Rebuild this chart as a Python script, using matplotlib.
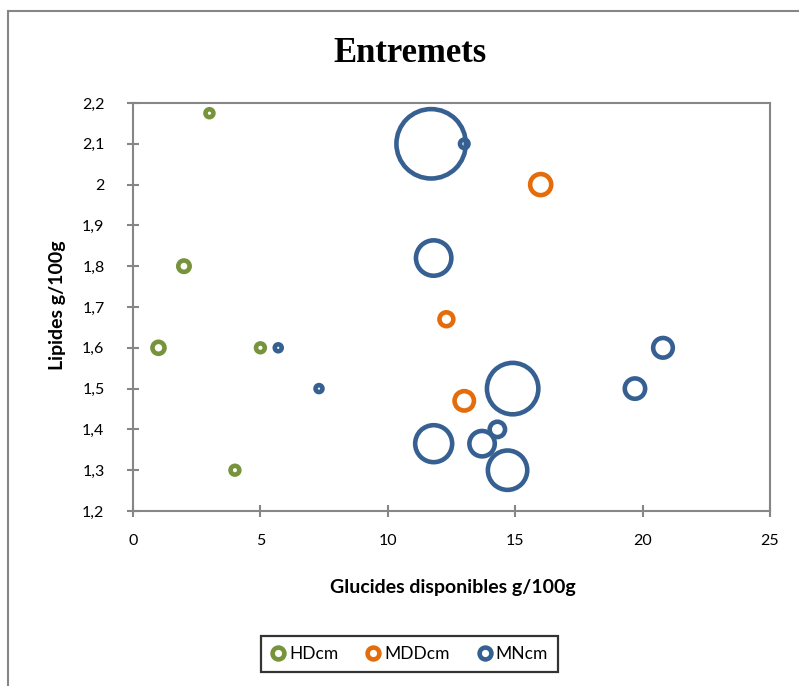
import matplotlib.pyplot as plt
from matplotlib.patches import Rectangle
from matplotlib.lines import Line2D
import numpy as np

# glucides (x), lipides (y) and bubble size for each group
hd_x = [3, 2, 1, 5, 4]
hd_y = [2.175, 1.8, 1.6, 1.6, 1.3]
hd_n = [1.3, 2.7, 3.0, 1.6, 1.6]

mdd_x = [16, 12.3, 13]
mdd_y = [2.0, 1.67, 1.47]
mdd_n = [9.2, 4.0, 7.8]

mn_x = [11.7, 13, 11.8, 5.7, 7.3, 20.8, 19.7, 14.9, 14.3, 13.7, 11.8, 14.7]
mn_y = [2.1, 2.1, 1.82, 1.6, 1.5, 1.6, 1.5, 1.5, 1.4, 1.365, 1.365, 1.3]
mn_n = [100, 1.5, 26, 1.0, 1.0, 8.0, 8.6, 54.9, 4.9, 13.4, 28.4, 32.2]

series = ['HDcm', 'MDDcm', 'MNcm']
colors = ['#77933C', '#E46C0A', '#376092']
x_ticks = [0, 5, 10, 15, 20, 25]
y_ticks = [1.2, 1.3, 1.4, 1.5, 1.6, 1.7, 1.8, 1.9, 2.0, 2.1, 2.2]

dpi = 100
rmax_px = 34.7  # centre-line radius of the largest bubble
nmax = max(hd_n + mdd_n + mn_n)

def bubble_area(n):
    d_pt = 2 * rmax_px * np.sqrt(np.array(n) / nmax) * 72 / dpi
    return d_pt ** 2

plt.rcParams['font.family'] = ['Lato', 'DejaVu Sans']
grey = '#868686'

fig = plt.figure(figsize=(7.99, 6.86), dpi=dpi)
ax = fig.add_axes([133/799, 1-511/686, 637/799, 408/686])

for xs, ys, ns, c in zip([hd_x, mdd_x, mn_x], [hd_y, mdd_y, mn_y],
                         [hd_n, mdd_n, mn_n], colors):
    ax.scatter(xs, ys, s=bubble_area(ns), facecolors='none',
               edgecolors=c, linewidths=3.3, zorder=3, clip_on=False)

ax.set_xlim(0, 25)
ax.set_ylim(1.2, 2.2)
ax.set_xticks(x_ticks)
ax.set_yticks(y_ticks)
ax.set_xticklabels([str(v) for v in x_ticks])
ax.set_yticklabels([('%g' % v).replace('.', ',') for v in y_ticks])
for sp in ax.spines.values():
    sp.set_color(grey)
    sp.set_linewidth(1.5)
ax.tick_params(axis='both', direction='inout', length=9, width=1.5,
               color=grey, labelsize=11.5, labelcolor='black')
ax.tick_params(axis='y', pad=16)
ax.tick_params(axis='x', pad=12)

fig.text(0.513, 1-53/686, 'Entremets', family='Liberation Serif',
         fontweight='bold', fontsize=25, ha='center', va='center')
fig.text(57/799, 1-305/686, 'Lipides g/100g', fontweight='bold',
         fontsize=14, rotation=90, ha='center', va='center')
fig.text(453/799, 1-587/686, 'Glucides disponibles g/100g',
         fontweight='bold', fontsize=14, ha='center', va='center')

handles = [Line2D([], [], linestyle='none', marker='o', markersize=8.5,
                  markerfacecolor='none', markeredgecolor=c,
                  markeredgewidth=3.3) for c in colors]
leg = fig.legend(handles, series, loc='center', ncol=3,
                 bbox_to_anchor=(409.5/799, 1-654/686), fontsize=12.5,
                 frameon=True, fancybox=False, handlelength=0.8,
                 handletextpad=0.25, columnspacing=1.6, borderpad=0.55,
                 borderaxespad=0)
leg.get_frame().set_edgecolor('black')
leg.get_frame().set_linewidth(1.6)

# chart area border
fig.add_artist(Rectangle((8/799, -0.1), 1.2, 1.1 - 11/686,
                         transform=fig.transFigure, fill=False,
                         edgecolor=grey, linewidth=1.5))

fig.savefig('out.png', dpi=dpi)
